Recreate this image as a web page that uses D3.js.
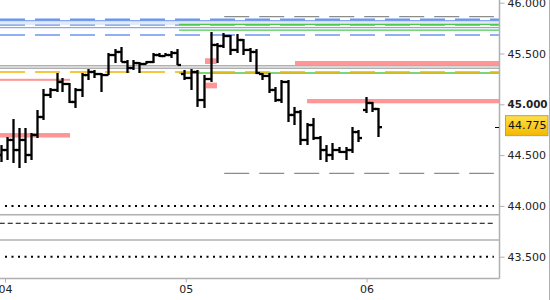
<!DOCTYPE html>
<html><head><meta charset="utf-8">
<script src="https://cdn.jsdelivr.net/npm/d3@7/dist/d3.min.js"></script>
<style>html,body{margin:0;padding:0;background:#fff;}svg{display:block;}</style>
</head><body>
<svg id="chart" width="550" height="300"></svg>
<script>
// ---- data ----
const barHours = [-0.53,0.27,1.06,1.86,2.65,3.45,4.25,5.04,5.97,6.90,7.57,8.50,9.29,10.22,11.02,11.81,12.74,13.67,14.60,15.40,16.20,16.99,17.79,18.72,19.65,20.44,21.24,22.04,22.83,23.76,24.69,25.49,26.42,27.35,28.14,28.94,29.87,30.80,31.59,32.52,33.32,34.12,35.05,35.84,36.64,37.57,38.37,39.16,40.09,40.89,41.82,42.61,43.41,44.34,45.27,46.06,46.86,47.92,48.72,49.52];
const opens = [44.501,44.550,44.649,44.550,44.649,44.501,44.698,44.875,45.092,45.141,
45.220,45.200,45.023,45.141,45.288,45.318,45.298,45.288,45.485,45.515,
45.416,45.357,45.406,45.397,45.416,45.485,45.475,45.485,45.505,45.298,
45.259,45.318,45.042,45.249,45.584,45.574,45.672,45.535,45.633,45.535,
45.515,45.298,45.279,45.141,45.042,45.220,44.895,44.924,44.649,44.796,
44.668,44.550,44.501,44.550,44.531,44.550,44.727,44.944,45.013,44.954];
const highs = [44.599,44.678,44.855,44.767,44.767,44.718,44.944,45.151,45.160,45.308,
45.259,45.210,45.160,45.308,45.347,45.338,45.308,45.505,45.544,45.564,
45.436,45.436,45.416,45.426,45.505,45.505,45.505,45.525,45.544,45.338,
45.347,45.338,45.288,45.712,45.603,45.702,45.682,45.692,45.643,45.554,
45.544,45.308,45.308,45.170,45.239,45.239,44.974,44.944,44.816,44.865,
44.688,44.599,44.619,44.580,44.580,44.777,44.747,45.072,45.023,44.964];
const lows = [44.432,44.452,44.422,44.373,44.422,44.452,44.668,44.846,45.062,45.121,
45.121,45.013,44.964,45.072,45.239,45.259,45.121,45.288,45.406,45.416,
45.308,45.338,45.308,45.397,45.406,45.466,45.475,45.456,45.387,45.239,
45.141,44.974,44.964,45.220,45.406,45.554,45.485,45.505,45.485,45.416,
45.298,45.239,45.111,45.023,45.013,44.826,44.796,44.599,44.599,44.649,
44.452,44.432,44.452,44.521,44.452,44.521,44.629,44.914,44.924,44.678];
const closes = [44.550,44.649,44.550,44.649,44.501,44.698,44.875,45.092,45.141,45.220,
45.200,45.023,45.141,45.288,45.318,45.298,45.288,45.485,45.515,45.416,
45.357,45.406,45.397,45.416,45.485,45.475,45.485,45.505,45.387,45.259,
45.318,45.042,45.249,45.584,45.574,45.672,45.535,45.633,45.535,45.515,
45.308,45.279,45.141,45.042,45.220,44.895,44.924,44.649,44.796,44.668,
44.550,44.501,44.550,44.531,44.550,44.727,44.668,45.013,44.954,44.775];

const dayTickHours = [0, 24, 48];
const dayTickLabels = ["04", "05", "06"];
const priceTicks = [46.0, 45.5, 45.0, 44.5, 44.0, 43.5];
const lastPrice = 44.775;

// horizontal levels (prices) and their start/end hours
const grayDashLevels = [45.862, 44.321];   const grayDashSpan = [29.1, 64.9];
const blueDashLevels = [45.835, 45.780, 45.682];
const blueSolidLevels = [45.823, 45.754];
const blueBand = [45.780, 45.823];
const greenLevels = [45.787, 45.731, 45.308]; const greenStart = 23.1;
const grayLevels = [45.380, 45.354, 43.913, 43.664];
const orangeLevels = [45.318];
const dottedLevels = [44.0, 43.5];          const dottedSpan = [0, 64.9];
const blackDashLevels = [43.829];           const blackDashSpan = [-0.7, 64.9];
// red zones: [low price, high price, start hour, end hour]
const redZoneLow   = [45.231, 44.673, 45.397, 45.157, 45.387, 45.010];
const redZoneHigh  = [45.251, 44.717, 45.453, 45.213, 45.426, 45.052];
const redZoneStart = [-0.7, -0.7, 26.55, 26.68, 38.5, 40.1];
const redZoneEnd   = [8.63, 8.63, 28.08, 28.14, 66, 66];

// ---- drawing ----
const W = 499, H = 278;
const FONT = "DejaVu Sans, Verdana, sans-serif";
const svg = d3.select("#chart");
const x = d3.scaleLinear().domain([-0.664, 65.58]).range([0, W]);
const y = d3.scaleLinear().domain([43.2904, 46.0266]).range([H, 0]);

const defs = svg.append("defs");
defs.append("clipPath").attr("id","clip")
  .append("rect").attr("x",0).attr("y",0).attr("width",W).attr("height",H);
const g = svg.append("g").attr("clip-path","url(#clip)");

function hline(p, x0, x1, color, width, dash){
  g.append("line").attr("x1", x(x0)).attr("x2", x(x1))
    .attr("y1", y(p)).attr("y2", y(p))
    .attr("stroke", color).attr("stroke-width", width)
    .attr("stroke-dasharray", dash || null);
}
const full = x.domain();

// blue band
g.append("rect").attr("x",0).attr("width",W)
  .attr("y", y(blueBand[1])).attr("height", y(blueBand[0]) - y(blueBand[1]))
  .attr("fill","#e4ebf8");
blueSolidLevels.forEach(p => hline(p, full[0], full[1], "#6b96ee", 1));
blueDashLevels.forEach((p,i) => hline(p, full[0], full[1], "#6b96ee", i===0?2:1.3, "25,10"));
grayDashLevels.forEach(p => hline(p, grayDashSpan[0], grayDashSpan[1], "#8c8c8c", 1.2, "25,10"));
greenLevels.forEach(p => hline(p, greenStart, full[1], "#4cc94c", 1.3));
grayLevels.forEach(p => hline(p, full[0], full[1], "#b0b0b0", 1.5));
orangeLevels.forEach(p => hline(p, full[0], full[1], "#f4b400", 1.5, "25,10"));
dottedLevels.forEach(p => hline(p, dottedSpan[0], dottedSpan[1], "#000", 2, "2,4.5"));
blackDashLevels.forEach(p => hline(p, blackDashSpan[0], blackDashSpan[1], "#000", 1, "5,3"));

// red zones
redZoneLow.forEach((lo,i) => {
  g.append("rect").attr("x", x(redZoneStart[i])).attr("width", x(redZoneEnd[i]) - x(redZoneStart[i]))
    .attr("y", y(redZoneHigh[i])).attr("height", y(lo) - y(redZoneHigh[i]))
    .attr("fill", "#ff9595");
});

// OHLC bars
const bars = g.append("g");
barHours.forEach((h,i) => {
  const cx = Math.round(x(h)) + 0.5;
  bars.append("line").attr("x1",cx).attr("x2",cx)
    .attr("y1", y(highs[i])).attr("y2", y(lows[i]))
    .attr("stroke","#000").attr("stroke-width",2.3);
  bars.append("line").attr("x1",cx-3.5).attr("x2",cx)
    .attr("y1", y(opens[i])).attr("y2", y(opens[i]))
    .attr("stroke","#000").attr("stroke-width",2.3);
  bars.append("line").attr("x1",cx).attr("x2",cx+3.5)
    .attr("y1", y(closes[i])).attr("y2", y(closes[i]))
    .attr("stroke","#000").attr("stroke-width",2.3);
});

// axes frame
svg.append("line").attr("x1",W+0.5).attr("x2",W+0.5).attr("y1",0).attr("y2",H+0.5)
  .attr("stroke","#b0b0b0").attr("stroke-width",1.5);
svg.append("line").attr("x1",0).attr("x2",W+0.5).attr("y1",H+0.5).attr("y2",H+0.5)
  .attr("stroke","#b0b0b0").attr("stroke-width",1.5);
svg.append("line").attr("x1",549.5).attr("x2",549.5).attr("y1",0).attr("y2",300)
  .attr("stroke","#b0b0b0").attr("stroke-width",1);

// x axis
const xAxis = d3.axisBottom(x).tickValues(dayTickHours)
  .tickFormat((d,i) => dayTickLabels[i]).tickSize(4).tickPadding(3);
const xg = svg.append("g").attr("transform", `translate(0,${H+0.5})`).call(xAxis);
xg.select(".domain").remove();
xg.selectAll(".tick line").attr("stroke","#b0b0b0");
xg.selectAll("text").attr("font-family",FONT)
  .attr("font-size","11px").attr("fill","#222");

// y axis
const yAxis = d3.axisRight(y).tickValues(priceTicks)
  .tickFormat(d3.format(".3f")).tickSize(5).tickPadding(3);
const yg = svg.append("g").attr("transform", `translate(${W+0.5},0)`).call(yAxis);
yg.select(".domain").remove();
yg.selectAll(".tick line").attr("stroke","#b0b0b0");
yg.selectAll("text").attr("font-family",FONT)
  .attr("font-size", d => d === 45.0 ? "10.4px" : "11px").attr("fill","#222")
  .attr("font-weight", d => d === 45.0 ? "bold" : "normal");

// last price marker
const yl = y(lastPrice);
svg.append("line").attr("x1",495).attr("x2",499).attr("y1",Math.round(yl)+0.5).attr("y2",Math.round(yl)+0.5)
  .attr("stroke","#000").attr("stroke-width",1);
const grad = defs.append("linearGradient").attr("id","gold")
  .attr("x1",0).attr("x2",0).attr("y1",0).attr("y2",1);
grad.append("stop").attr("offset","0%").attr("stop-color","#ffe04a");
grad.append("stop").attr("offset","100%").attr("stop-color","#f2b800");
svg.append("rect").attr("x",505.5).attr("y",yl-11.5).attr("width",42.5).attr("height",20)
  .attr("fill","url(#gold)").attr("stroke","#a8a08a").attr("stroke-width",1);
svg.append("text").attr("x",508).attr("y",yl-1.5).attr("dominant-baseline","central")
  .attr("font-family",FONT).attr("font-size","11px")
  .attr("fill","#111").text(d3.format(".3f")(lastPrice));
</script>
</body></html>
